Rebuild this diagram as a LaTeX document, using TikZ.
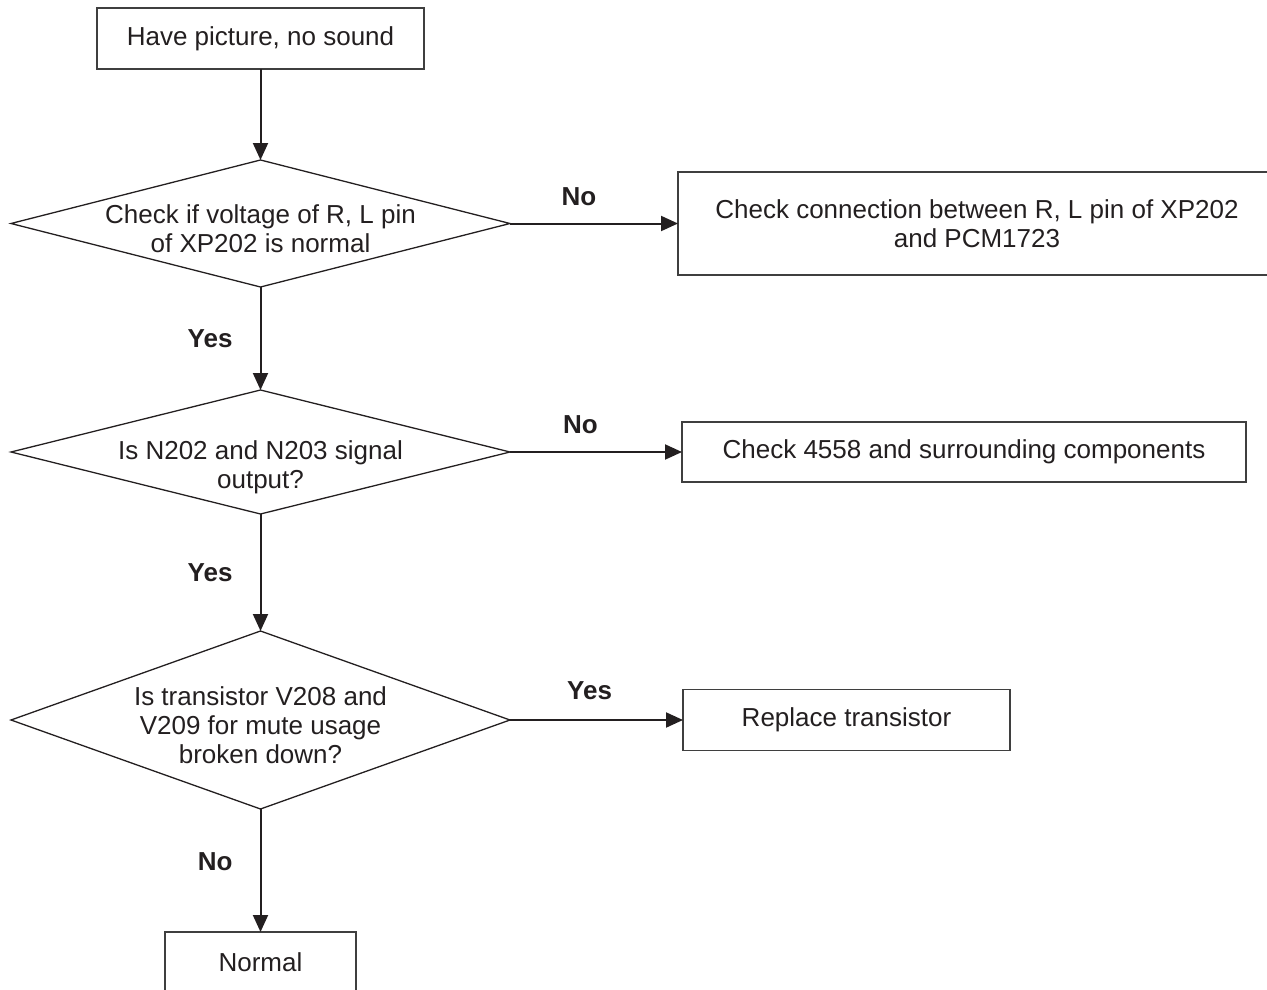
\documentclass[tikz,border=0pt]{standalone}
\usepackage{fontspec}
\setmainfont{Liberation Sans}
\usetikzlibrary{shapes.geometric, positioning, arrows.meta}
\definecolor{ink}{HTML}{231F20}
\definecolor{frame}{HTML}{3F3F3F}
\tikzset{%
  node distance=100pt,
  every node/.style={
    text=ink,
    font=\fontsize{26}{29}\selectfont},
  process/.style={          % plain boxes
    rectangle, draw=frame, line width=1.4pt,
    align=center, inner sep=0pt, outer sep=0pt,
    minimum height=61pt},
  decision/.style={         % question diamonds
    diamond, draw=ink, line width=1.3pt,
    align=center, inner sep=-20pt, outer sep=0pt,
    aspect=3.9, minimum width=499pt},
  answer/.style={
    font=\fontsize{26}{29}\selectfont\bfseries,
    inner sep=0pt},
  every edge/.style={
    draw=ink,
    -{Triangle[length=17pt,width=15pt]},
    line width=2pt}
}

\begin{document}
\begin{tikzpicture}[x=1pt, y=-1pt]
  \useasboundingbox (0,0) rectangle (1267,990);

  \node[process, minimum width=327pt] (start) at (260.5,38.5) {Have picture, no sound};
  \node[decision, minimum height=127pt, below=91pt of start] (volt)
    {\mbox{}\\Check if voltage of R, L pin\\of XP202 is normal};
  \node[decision, minimum height=124pt, below=103pt of volt] (sig)
    {\strut\\Is N202 and N203 signal\\output?};
  \node[decision, minimum height=178pt, below=117pt of sig] (mute)
    {\mbox{}\\Is transistor V208 and\\V209 for mute usage\\broken down?};
  \node[process, minimum width=191pt, minimum height=60pt, below=123pt of mute] (normal) {Normal};

  \node[process, minimum width=598pt, minimum height=103pt, right=168pt of volt] (conn)
    {Check connection between R, L pin of XP202\\and PCM1723};
  \node[process, minimum width=564pt, minimum height=60pt, right=172pt of sig] (comp)
    {Check 4558 and surrounding components};
  \node[process, minimum width=327pt, right=173pt of mute] (repl) {Replace transistor};

  \draw
        (start) edge (volt)
        (volt) edge node[answer, pos=0.41, above=17pt] {No} (conn)
        (volt) edge node[answer, left=27pt] {Yes} (sig)

        (sig) edge node[answer, pos=0.41, above=17pt] {No} (comp)
        (sig) edge node[answer, left=27pt] {Yes} (mute)

        (mute) edge node[answer, pos=0.46, above=19pt] {Yes} (repl)
        (mute) edge node[answer, pos=0.43, left=27pt] {No} (normal)
  ;

\end{tikzpicture}
\end{document}
